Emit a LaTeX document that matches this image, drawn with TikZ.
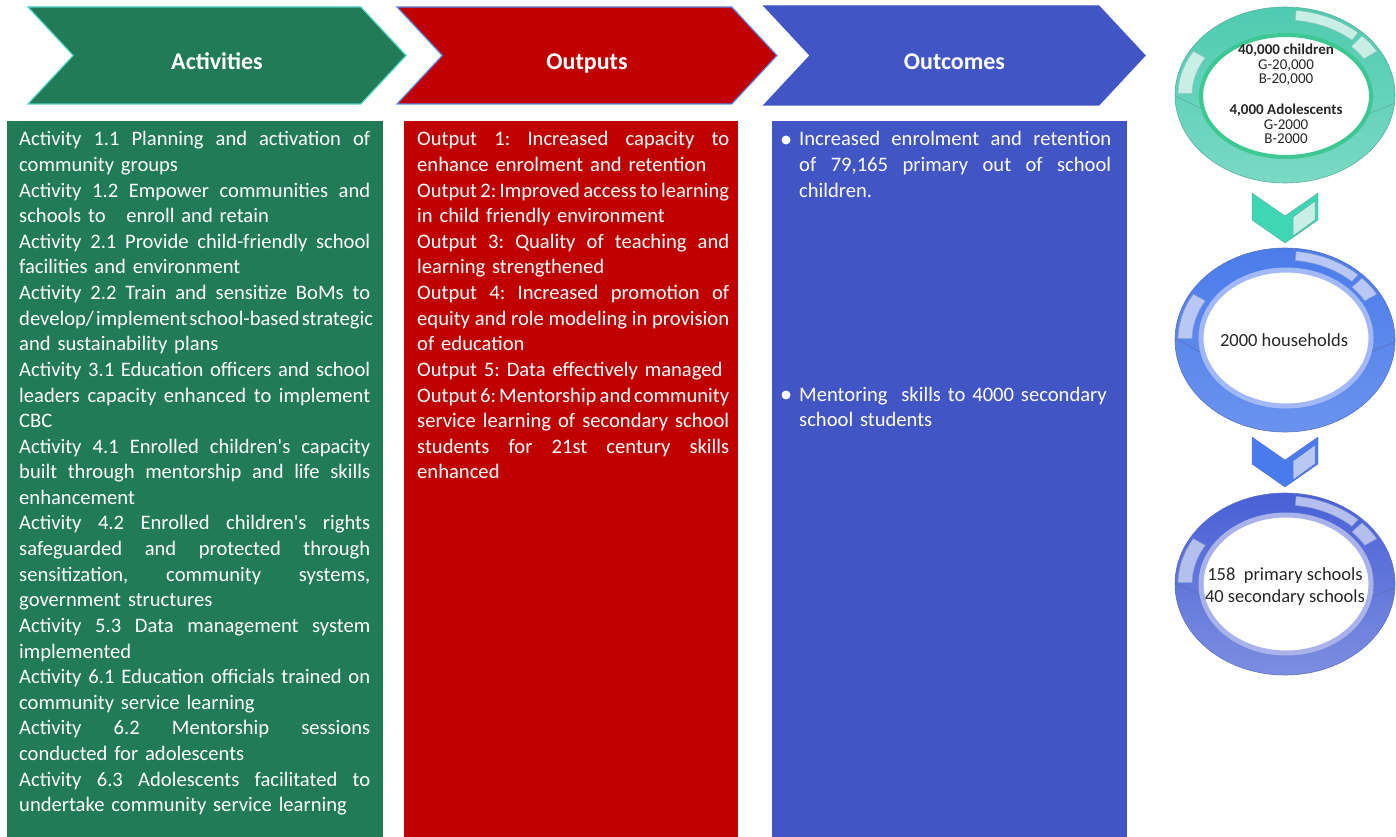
\documentclass[tikz,border=0pt]{standalone}
\usepackage{fontspec}
\setmainfont{Carlito}
\usetikzlibrary{shapes.symbols,shapes.geometric}

\definecolor{actgreen}{HTML}{217B57}
\definecolor{actedge}{HTML}{4FD3C3}
\definecolor{outred}{HTML}{C00000}
\definecolor{outedge}{HTML}{5B8DEB}
\definecolor{outcblue}{HTML}{4255C5}
\definecolor{tealtop}{HTML}{4ECBB0}
\definecolor{tealbot}{HTML}{7AD9C4}
\definecolor{tealrim}{HTML}{3CC793}
\definecolor{tealedge}{HTML}{5AAE9C}
\definecolor{tealpanel}{HTML}{C9EEE5}
\definecolor{tealarrow}{HTML}{3FD6B4}
\definecolor{bluetop}{HTML}{4B7CEA}
\definecolor{bluebot}{HTML}{6A93EE}
\definecolor{bluerim}{HTML}{A3B8F6}
\definecolor{blueedge}{HTML}{5A70BE}
\definecolor{bluepanel}{HTML}{B8C7F4}
\definecolor{bluearrow}{HTML}{4A7BEC}
\definecolor{indtop}{HTML}{4960D6}
\definecolor{indbot}{HTML}{7C8EE0}
\definecolor{indrim}{HTML}{A9B3EA}
\definecolor{indpanel}{HTML}{B5BFEE}

% justified line of a fixed width
\newcommand{\jl}[2][351pt]{\leavevmode\hbox to #1{\spaceskip=0.226em plus 1fil minus 0.12em\relax #2}}
\newcommand{\sq}{\textquotesingle}
\frenchspacing
\hyphenpenalty=10000

\begin{document}
\begin{tikzpicture}[x=1pt,y=-1pt]
  \tikzstyle{header}=[signal, signal to=east, signal from=west, signal pointer angle=94, minimum height=97pt, inner sep=0pt, text=white, font=\fontsize{24}{28}\selectfont\bfseries, text height=28pt, text depth=0pt, line width=1.2pt]
  \tikzstyle{column}=[anchor=north west, inner sep=0pt, minimum height=716pt]
  \tikzstyle{body}=[anchor=base west, inner sep=0pt, align=left, text=white, text width=400pt, font=\fontsize{20.6}{25.6}\selectfont]
  \tikzstyle{ring}=[ellipse, inner sep=0pt, minimum width=220pt, line width=0.6pt]
  \tikzstyle{ringtext}=[align=center, inner sep=0pt, text=black!85]

  \path[use as bounding box] (0,0) rectangle (1396,837);

  % headers
  \node (acthead) at (217,55.5) [header, minimum width=378pt, fill=actgreen, draw=actedge] {Activities};
  \node (outhead) at (587,55.5) [header, minimum width=380pt, fill=outred, draw=outedge] {Outputs};
  \node (outchead) at (954.5,55.5) [header, minimum width=381pt, minimum height=99pt, fill=outcblue, draw=outcblue] {Outcomes};

  % columns
  \node (actcol) at (7,121) [column, fill=actgreen, minimum width=376pt] {};
  \node (outcol) at (404,121) [column, fill=outred, minimum width=334pt] {};
  \node (outccol) at (772,121) [column, fill=outcblue, minimum width=355pt] {};

  \node (acttext) at ([xshift=12pt,yshift=-25pt]actcol.north west) [body] {%
    \jl{Activity 1.1 Planning and activation of}\\
    community groups\\
    \jl{Activity 1.2 Empower communities and}\\
    schools to\ \ \ enroll and retain\\
    \jl{Activity 2.1 Provide child-friendly school}\\
    facilities and environment\\
    \jl{Activity 2.2 Train and sensitize BoMs to}\\
    \jl{develop/ implement school-based strategic}\\
    and sustainability plans\\
    \jl{Activity 3.1 Education officers and school}\\
    \jl{leaders capacity enhanced to implement}\\
    CBC\\
    \jl{Activity 4.1 Enrolled children\sq s capacity}\\
    \jl{built through mentorship and life skills}\\
    enhancement\\
    \jl{Activity 4.2 Enrolled children\sq s rights}\\
    \jl{safeguarded and protected through}\\
    \jl{sensitization, community systems,}\\
    government structures\\
    \jl{Activity 5.3 Data management system}\\
    implemented\\
    \jl{Activity 6.1 Education officials trained on}\\
    community service learning\\
    \jl{Activity 6.2 Mentorship sessions}\\
    conducted for adolescents\\
    \jl{Activity 6.3 Adolescents facilitated to}\\
    undertake community service learning};

  \node (outtext) at ([xshift=13pt,yshift=-25pt]outcol.north west) [body] {%
    \jl[312pt]{Output 1: Increased capacity to}\\
    enhance enrolment and retention\\
    \jl[312pt]{Output 2: Improved access to learning}\\
    in child friendly environment\\
    \jl[312pt]{Output 3: Quality of teaching and}\\
    learning strengthened\\
    \jl[312pt]{Output 4: Increased promotion of}\\
    \jl[312pt]{equity and role modeling in provision}\\
    of education\\
    Output 5: Data effectively managed\\
    \jl[312pt]{Output 6: Mentorship and community}\\
    \jl[312pt]{service learning of secondary school}\\
    \jl[312pt]{students for 21st century skills}\\
    enhanced};

  \node (enrol) at ([xshift=27pt,yshift=-25pt]outccol.north west) [body] {%
    \jl[312pt]{Increased enrolment and retention}\\
    \jl[312pt]{of 79,165 primary out of school}\\
    children.};
  \node (mentor) at ([xshift=27pt,yshift=-280pt]outccol.north west) [body] {%
    Mentoring\ \ skills to 4000 secondary\\
    school students};
  \fill[white] ([xshift=-13pt,yshift=6pt]enrol.base west) circle (4.5pt);
  \fill[white] ([xshift=-13pt,yshift=6pt]mentor.base west) circle (4.5pt);

  % ring 1
  \node (ring1) at (1285,95) [ring, minimum height=176pt, top color=tealtop, bottom color=tealbot, draw=tealedge] {};
  \filldraw[fill=tealpanel, draw=tealedge!70, line width=0.5pt] plot[domain=-84:-47, samples=24] ({1285+107*cos(\x)},{95+85*sin(\x)}) -- plot[domain=-47:-84, samples=24] ({1285+98*cos(\x)},{95+75*sin(\x)}) -- cycle;
  \filldraw[fill=tealpanel, draw=tealedge!70, line width=0.5pt] plot[domain=-44:-31, samples=12] ({1285+107*cos(\x)},{95+85*sin(\x)}) -- plot[domain=-31:-44, samples=12] ({1285+92*cos(\x)},{95+70*sin(\x)}) -- cycle;
  \filldraw[fill=tealpanel, draw=tealedge!70, line width=0.5pt] plot[domain=181:211, samples=16] ({1285+107*cos(\x)},{95+85*sin(\x)}) -- plot[domain=211:181, samples=16] ({1285+93*cos(\x)},{95+72*sin(\x)}) -- cycle;
  \draw[tealedge, line width=0.6pt] (1175,96) -- (1202,109) (1368,114) -- (1395,103);
  \filldraw[fill=white, draw=tealrim, line width=4pt] (1286,96) ellipse [x radius=85, y radius=61];
  \node (kids) at (1286,94) [ringtext, font=\fontsize{15}{14.4}\selectfont] {\textbf{40,000 children}\\G-20,000\\B-20,000\\[16.5pt]\textbf{4,000 Adolescents}\\G-2000\\B-2000};

  % ring 2
  \node (ring2) at (1285,340) [ring, minimum height=184pt, top color=bluetop, bottom color=bluebot, draw=blueedge] {};
  \filldraw[fill=bluepanel, draw=blueedge!70, line width=0.5pt] plot[domain=-84:-47, samples=24] ({1285+107*cos(\x)},{340+89*sin(\x)}) -- plot[domain=-47:-84, samples=24] ({1285+98*cos(\x)},{340+80*sin(\x)}) -- cycle;
  \filldraw[fill=bluepanel, draw=blueedge!70, line width=0.5pt] plot[domain=-44:-31, samples=12] ({1285+107*cos(\x)},{340+89*sin(\x)}) -- plot[domain=-31:-44, samples=12] ({1285+93*cos(\x)},{340+76*sin(\x)}) -- cycle;
  \filldraw[fill=bluepanel, draw=blueedge!70, line width=0.5pt] plot[domain=181:211, samples=16] ({1285+107*cos(\x)},{340+89*sin(\x)}) -- plot[domain=211:181, samples=16] ({1285+93*cos(\x)},{340+76*sin(\x)}) -- cycle;
  \draw[blueedge, line width=0.6pt] (1175,338) -- (1202,353) (1368,353) -- (1395,342);
  \filldraw[fill=white, draw=bluerim, line width=5pt] (1286,338) ellipse [x radius=85, y radius=68];
  \node (homes) at (1284,340) [ringtext, font=\fontsize{18.5}{22}\selectfont] {2000 households};

  % ring 3
  \node (ring3) at (1285,584) [ring, minimum height=182pt, top color=indtop, bottom color=indbot, draw=blueedge] {};
  \filldraw[fill=indpanel, draw=blueedge!70, line width=0.5pt] plot[domain=-84:-47, samples=24] ({1285+107*cos(\x)},{584+88*sin(\x)}) -- plot[domain=-47:-84, samples=24] ({1285+98*cos(\x)},{584+79*sin(\x)}) -- cycle;
  \filldraw[fill=indpanel, draw=blueedge!70, line width=0.5pt] plot[domain=-44:-31, samples=12] ({1285+107*cos(\x)},{584+88*sin(\x)}) -- plot[domain=-31:-44, samples=12] ({1285+93*cos(\x)},{584+75*sin(\x)}) -- cycle;
  \filldraw[fill=indpanel, draw=blueedge!70, line width=0.5pt] plot[domain=181:211, samples=16] ({1285+107*cos(\x)},{584+88*sin(\x)}) -- plot[domain=211:181, samples=16] ({1285+93*cos(\x)},{584+75*sin(\x)}) -- cycle;
  \draw[blueedge, line width=0.6pt] (1175,583) -- (1202,595) (1367,598) -- (1395,588);
  \filldraw[fill=white, draw=indrim, line width=5pt] (1286,584) ellipse [x radius=85, y radius=69];
  \node (schools) at (1285,587) [ringtext, font=\fontsize{18.5}{22}\selectfont] {158\ \ primary schools\\40 secondary schools};

  % down chevrons
  \filldraw[fill=tealarrow, draw=tealedge, line width=0.4pt] (1252,193) -- (1285,216) -- (1318,193) -- (1318,220) -- (1285,243) -- (1252,220) -- cycle;
  \filldraw[fill=tealpanel, draw=tealedge, line width=0.5pt] (1293,217) -- (1315,201) -- (1315,220) -- (1293,236) -- cycle;
  \filldraw[fill=bluearrow, draw=blueedge, line width=0.4pt] (1252,437) -- (1285,460) -- (1318,437) -- (1318,464) -- (1285,487) -- (1252,464) -- cycle;
  \filldraw[fill=bluepanel, draw=blueedge, line width=0.5pt] (1293,461) -- (1315,445) -- (1315,464) -- (1293,480) -- cycle;
\end{tikzpicture}
\end{document}
